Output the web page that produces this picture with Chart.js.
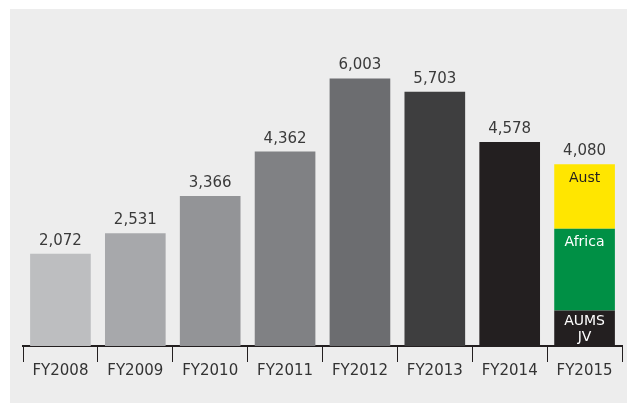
<!DOCTYPE html>
<html>
<head>
<meta charset="utf-8">
<script src="https://cdn.jsdelivr.net/npm/chart.js@4/dist/chart.umd.min.js"></script>
<style>
  html, body { margin: 0; padding: 0; background: #fff; }
  #panel { position: absolute; left: 10px; top: 9px; width: 617px; height: 394px; background: #ededed; }
  #chart { display: block; }
</style>
</head>
<body>
<div id="panel"><canvas id="chart" width="617" height="394"></canvas></div>
<script>
var years = ['FY2008', 'FY2009', 'FY2010', 'FY2011', 'FY2012', 'FY2013', 'FY2014', 'FY2015'];
var totals = [2072, 2531, 3366, 4362, 6003, 5703, 4578, 4080];
var pastTotals = [2072, 2531, 3366, 4362, 6003, 5703, 4578, null];
var pastColors = ['#bdbec0', '#a7a8ab', '#939497', '#808184', '#6c6d70', '#3e3e3f', '#231f20', '#231f20'];
// FY2015 split by region
var aumsJV = [null, null, null, null, null, null, null, 795];
var africa = [null, null, null, null, null, null, null, 1835];
var aust = [null, null, null, null, null, null, null, 1450];
var segmentNames = ['AUMS\nJV', 'Africa', 'Aust'];

var FONT = '"DejaVu Sans", sans-serif';

var labelsPlugin = {
  id: 'barLabels',
  afterDatasetsDraw: function(chart) {
    var ctx = chart.ctx;
    var xs = chart.scales.x, ys = chart.scales.y;
    ctx.save();
    ctx.textAlign = 'center';
    ctx.textBaseline = 'alphabetic';
    ctx.font = '15px ' + FONT;
    ctx.fillStyle = '#3a3a3a';
    totals.forEach(function(v, i) {
      ctx.fillText(v.toLocaleString('en-US'), xs.getPixelForValue(i), ys.getPixelForValue(v) - 9);
    });
    // names inside the FY2015 segments
    ctx.font = '14px ' + FONT;
    ctx.textBaseline = 'middle';
    for (var d = 1; d <= 3; d++) {
      var el = chart.getDatasetMeta(d).data[7];
      var lines = segmentNames[d - 1].split('\n');
      ctx.fillStyle = d === 3 ? '#231f20' : '#ffffff';
      if (lines.length === 2) {
        ctx.fillText(lines[0], el.x, el.y + 11);
        ctx.fillText(lines[1], el.x, el.y + 27);
      } else {
        ctx.fillText(lines[0], el.x, el.y + 14);
      }
    }
    ctx.restore();
  }
};

new Chart(document.getElementById('chart'), {
  type: 'bar',
  data: {
    labels: years,
    datasets: [
      { data: pastTotals, backgroundColor: pastColors },
      { data: aumsJV, backgroundColor: '#231f20' },
      { data: africa, backgroundColor: '#009045' },
      { data: aust, backgroundColor: '#ffe600' }
    ]
  },
  options: {
    responsive: false,
    animation: false,
    layout: { padding: { left: 13, right: 5, top: 25, bottom: 23 } },
    datasets: { bar: { barPercentage: 0.81, categoryPercentage: 1 } },
    plugins: { legend: { display: false }, tooltip: { enabled: false } },
    scales: {
      x: {
        stacked: true,
        grid: { offset: true, drawOnChartArea: false, drawTicks: true, tickLength: 16, color: '#231f20', lineWidth: 1 },
        border: { color: '#231f20', width: 2 },
        ticks: { color: '#333333', font: { family: FONT, size: 15 }, padding: 0 }
      },
      y: {
        stacked: true,
        display: false,
        min: 0,
        max: 7000
      }
    }
  },
  plugins: [labelsPlugin]
});
</script>
</body>
</html>
